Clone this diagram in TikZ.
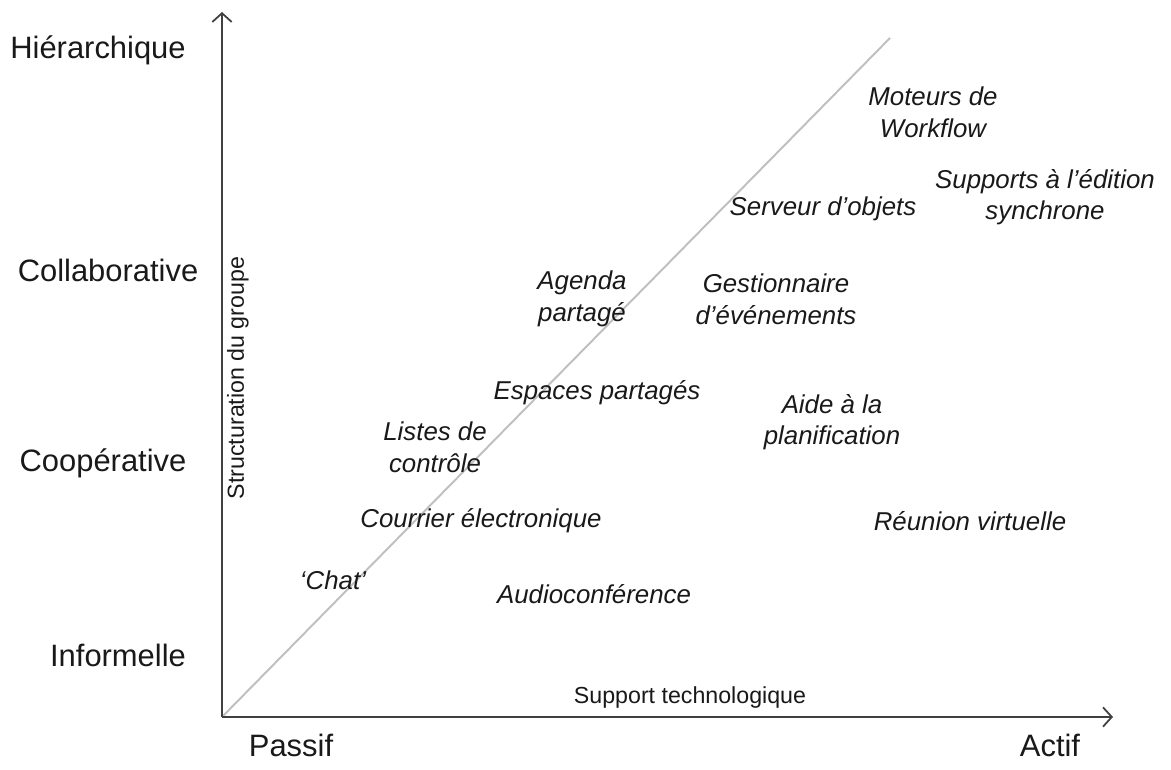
\documentclass[tikz,border=0pt]{standalone}
\usepackage{fontspec}
\setmainfont{Liberation Sans}
\usetikzlibrary{arrows.meta}
\begin{document}
\begin{tikzpicture}[x=0.02cm,y=-0.02cm,
  level/.style={font=\fontsize{17.6}{21}\selectfont, text=black!90, inner sep=0pt},
  tool/.style={font=\fontsize{14.7}{18}\selectfont\itshape, text=black!90, align=center, inner sep=0pt},
  axlabel/.style={font=\fontsize{13.2}{16}\selectfont, text=black!90, inner sep=0pt},
  axis/.style={draw=black!75, line width=1.3pt, -{Straight Barb[length=5pt,width=11pt,line width=1pt]}},
  diag/.style={draw=black!25, line width=1.1pt}]
\useasboundingbox (0,0) rectangle (1171,770);
\fill[white] (0,0) rectangle (1171,770);
\coordinate (O) at (222,717);
\coordinate (Ytip) at (222,12);
\coordinate (Xtip) at (1113,717);
\coordinate (Dend) at (890,38);
\draw[diag] (O) -- (Dend);
\draw[axis] (O) -- (Ytip);
\draw[axis] (O) -- (Xtip);
\node[level] (hier) at (98,50) {Hiérarchique};
\node[level] (coll) at (108,270) {Collaborative};
\node[level] (coop) at (103,463) {Coopérative};
\node[level] (info) at (118,655) {Informelle};
\node[level] (pass) at (291,745) {Passif};
\node[level] (act) at (1050,745) {Actif};
\node[axlabel] (sup) at (690,698) {Support technologique};
\node[axlabel, rotate=90] (str) at (238,378) {Structuration du groupe};
\begin{scope}
\clip (0,0) rectangle (1159,770);
\node[tool] (mot) at (933,112) {Moteurs de\\Workflow};
\node[tool] (edi) at (1045,197) {Supports à l’édition\\synchrone};
\node[tool] (serv) at (823,209) {Serveur d’objets};
\node[tool] (agen) at (582,299) {Agenda\\partagé};
\node[tool] (gest) at (776,299) {Gestionnaire\\d’événements};
\node[tool] (esp) at (597,393) {Espaces partagés};
\node[tool] (aide) at (832,422) {Aide à la\\planification};
\node[tool] (list) at (435,447) {Listes de\\contrôle};
\node[tool] (cour) at (481,521) {Courrier électronique};
\node[tool] (reun) at (970,521) {Réunion virtuelle};
\node[tool] (chat) at (333,580) {‘Chat’};
\node[tool] (audi) at (594,594) {Audioconférence};
\end{scope}
\end{tikzpicture}
\end{document}
